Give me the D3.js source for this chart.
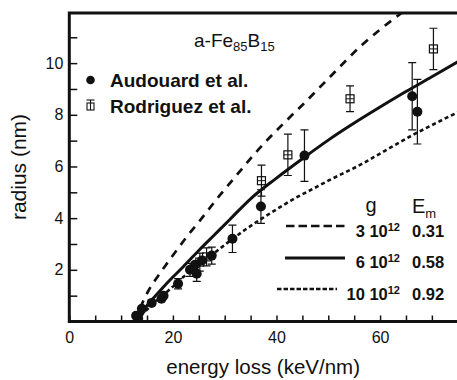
<!DOCTYPE html>
<html>
<head>
<meta charset="utf-8">
<script src="https://cdn.jsdelivr.net/npm/d3@7"></script>
<style>
  body { margin: 0; background: #fff; }
  text { font-family: "Liberation Sans", Arial, Helvetica, sans-serif; fill: #111; }
</style>
</head>
<body>
<div id="chart"></div>
<script>
// data (energy loss in keV/nm, radius in nm)
var audouardE   = [12.9, 13.3, 14.0, 15.9, 17.8, 18.2, 21.0, 23.3, 24.3, 24.6, 25.6, 27.5, 31.5, 37.0, 45.4, 66.2, 67.2];
var audouardR   = [0.22, 0.12, 0.49, 0.72, 0.88, 1.00, 1.46, 2.00, 2.20, 1.85, 2.36, 2.55, 3.20, 4.45, 6.42, 8.72, 8.12];
var audouardErr = [0,    0,    0,    0,    0,    0,    0.2,  0.25, 0,    0.3,  0,    0.33, 0.53, 0.65, 1.0,  1.3,  1.25];

var rodriguezE   = [25.2, 26.5, 37.1, 42.2, 54.2, 70.3];
var rodriguezR   = [2.30, 2.50, 5.45, 6.45, 8.62, 10.55];
var rodriguezErr = [0.35, 0.35, 0.6,  0.8,  0.5,  0.8];

// model curves, g = 3, 6, 10 x 10^12
var g3E = [12.5, 13.5, 15.3, 17.2, 18.8, 20.7, 22.6, 25, 29, 33.3, 35.6, 38.1, 40.3, 42.9, 45.2, 50, 56.5, 60, 64.2, 68];
var g3R = [0, 0.45, 1.2, 1.78, 2.23, 2.75, 3.26, 3.85, 4.87, 5.9, 6.45, 7.0, 7.45, 7.97, 8.42, 9.4, 10.7, 11.3, 11.95, 12.5];
var g6E = [12.5, 14, 16, 18, 20, 22, 25, 28, 31, 35, 40, 45, 50, 55, 60, 65, 70, 75];
var g6R = [0, 0.38, 0.85, 1.3, 1.72, 2.12, 2.75, 3.35, 3.95, 4.75, 5.55, 6.3, 7.02, 7.68, 8.3, 8.9, 9.47, 10.05];
var g10E = [13, 14, 16, 18, 20, 22, 25, 28, 31, 34, 37.3, 40, 43.3, 46.9, 50, 56.5, 60, 66.7, 70, 75];
var g10R = [0, 0.25, 0.65, 1.0, 1.35, 1.72, 2.2, 2.65, 3.12, 3.56, 4.0, 4.34, 4.74, 5.12, 5.45, 6.1, 6.5, 7.26, 7.6, 8.1];

var gLabels = ["3", "6", "10"];
var emLabels = ["0.31", "0.58", "0.92"];
var xTicks = [0, 5, 10, 15, 20, 25, 30, 35, 40, 45, 50, 55, 60, 65, 70];
var yTicks = [1, 2, 3, 4, 5, 6, 7, 8, 9, 10, 11];

// dimensions
var width = 457, height = 380;
var plot = {left: 69.3, right: 457, top: 13, bottom: 321.5};

var svg = d3.select("#chart")
  .append("svg")
  .attr("width", width)
  .attr("height", height);

var x = d3.scaleLinear().domain([0, 74.85]).range([plot.left, plot.right]);
var y = d3.scaleLinear().domain([0, 11.94]).range([plot.bottom, plot.top]);

svg.append("clipPath").attr("id", "clip")
  .append("rect")
  .attr("x", plot.left).attr("y", plot.top)
  .attr("width", plot.right - plot.left).attr("height", plot.bottom - plot.top);

// axes, ticks point into the plot
var xAxis = svg.append("g")
  .attr("transform", `translate(0, ${plot.bottom})`)
  .call(d3.axisBottom(x).tickValues(xTicks).tickSize(-6).tickPadding(10)
    .tickFormat(function(d) { return d % 20 == 0 ? d : ""; }));
var yAxis = svg.append("g")
  .attr("transform", `translate(${plot.left}, 0)`)
  .call(d3.axisLeft(y).tickValues(yTicks).tickSize(-8).tickPadding(6)
    .tickFormat(function(d) { return d % 2 == 0 ? d : ""; }));

[xAxis, yAxis].forEach(function(a) {
  a.select(".domain").remove();
  a.selectAll(".tick line").attr("stroke", "#111").attr("stroke-width", 1.5);
  a.selectAll(".tick text").attr("font-size", "16px")
    .attr("font-family", "Liberation Sans, Arial, sans-serif").attr("fill", "#111");
});

// thick frame (left, bottom, top)
svg.append("path")
  .attr("d", `M${plot.right},${plot.top} H${plot.left} V${plot.bottom} H${plot.right}`)
  .attr("fill", "none")
  .attr("stroke", "#111")
  .attr("stroke-width", 3);

// axis titles
svg.append("text")
  .attr("x", (plot.left + plot.right) / 2).attr("y", 374)
  .attr("text-anchor", "middle")
  .attr("font-size", "20.5px")
  .text("energy loss (keV/nm)");

svg.append("text")
  .attr("transform", "translate(26, 167) rotate(-90)")
  .attr("text-anchor", "middle")
  .attr("font-size", "21px")
  .text("radius (nm)");

// model curves
var curves = [
  {e: g3E, r: g3R, dash: "8,7", w: 2.7},
  {e: g6E, r: g6R, dash: null, w: 3},
  {e: g10E, r: g10R, dash: "4,3", w: 2.6}
];
var line = d3.line()
  .x(function(d) { return x(d[0]); })
  .y(function(d) { return y(d[1]); })
  .curve(d3.curveMonotoneX);

var curveG = svg.append("g").attr("clip-path", "url(#clip)");
curves.forEach(function(c) {
  curveG.append("path")
    .attr("d", line(d3.zip(c.e, c.r)))
    .attr("fill", "none")
    .attr("stroke", "#111")
    .attr("stroke-width", c.w)
    .attr("stroke-dasharray", c.dash);
});

// error bars with caps
function errorBar(g, e, r, err) {
  if (err <= 0) return;
  var cx = x(e), y1 = y(r + err), y2 = y(r - err);
  g.append("line").attr("x1", cx).attr("x2", cx).attr("y1", y1).attr("y2", y2)
    .attr("stroke", "#111").attr("stroke-width", 1.2);
  [y1, y2].forEach(function(yy) {
    g.append("line").attr("x1", cx - 4).attr("x2", cx + 4).attr("y1", yy).attr("y2", yy)
      .attr("stroke", "#111").attr("stroke-width", 1.2);
  });
}

var pts = svg.append("g").attr("clip-path", "url(#clip)");

// Rodriguez: open squares
rodriguezE.forEach(function(e, i) {
  errorBar(pts, e, rodriguezR[i], rodriguezErr[i]);
  var cx = x(e), cy = y(rodriguezR[i]);
  pts.append("rect")
    .attr("x", cx - 4).attr("y", cy - 4).attr("width", 8).attr("height", 8)
    .attr("fill", "none").attr("stroke", "#111").attr("stroke-width", 1.2);
  pts.append("line").attr("x1", cx - 4).attr("x2", cx + 4).attr("y1", cy).attr("y2", cy)
    .attr("stroke", "#111").attr("stroke-width", 1);
});

// Audouard: filled circles
audouardE.forEach(function(e, i) {
  errorBar(pts, e, audouardR[i], audouardErr[i]);
  pts.append("circle")
    .attr("cx", x(e)).attr("cy", y(audouardR[i])).attr("r", 5)
    .attr("fill", "#111");
});

// title
var title = svg.append("text")
  .attr("x", 194).attr("y", 47)
  .attr("font-size", "19px");
title.append("tspan").text("a-Fe");
title.append("tspan").attr("font-size", "13px").attr("dy", 4).text("85");
title.append("tspan").attr("dy", -4).text("B");
title.append("tspan").attr("font-size", "13px").attr("dy", 4).text("15");

// data legend
svg.append("circle").attr("cx", 90.5).attr("cy", 80).attr("r", 4.3).attr("fill", "#111");
svg.append("text").attr("x", 110).attr("y", 87)
  .attr("font-size", "19px").attr("font-weight", "bold")
  .text("Audouard et al.");

svg.append("rect").attr("x", 87).attr("y", 103).attr("width", 7).attr("height", 7)
  .attr("fill", "none").attr("stroke", "#111").attr("stroke-width", 1.1);
svg.append("line").attr("x1", 90.5).attr("x2", 90.5).attr("y1", 100).attr("y2", 110)
  .attr("stroke", "#111").attr("stroke-width", 1.1);
svg.append("line").attr("x1", 86.5).attr("x2", 94.5).attr("y1", 100).attr("y2", 100)
  .attr("stroke", "#111").attr("stroke-width", 1.1);
svg.append("text").attr("x", 110).attr("y", 113)
  .attr("font-size", "19px").attr("font-weight", "bold")
  .text("Rodriguez et al.");

// curve legend: header g and E_m
svg.append("text").attr("x", 371).attr("y", 212)
  .attr("text-anchor", "middle").attr("font-size", "20px").text("g");
var em = svg.append("text").attr("x", 412).attr("y", 213).attr("font-size", "20px");
em.append("tspan").text("E");
em.append("tspan").attr("font-size", "13px").attr("dy", 5).text("m");

var legLines = [
  {x1: 286, x2: 347, y: 226, textY: 236.5},
  {x1: 285, x2: 345, y: 258, textY: 268},
  {x1: 277, x2: 337, y: 289, textY: 300}
];
var legDash = ["8.5,4", null, "4.5,2"];

legLines.forEach(function(l, i) {
  svg.append("line")
    .attr("x1", l.x1).attr("x2", l.x2).attr("y1", l.y).attr("y2", l.y)
    .attr("stroke", "#111")
    .attr("stroke-width", curves[i].w)
    .attr("stroke-dasharray", legDash[i]);

  var t = svg.append("text")
    .attr("x", 400).attr("y", l.textY)
    .attr("text-anchor", "end")
    .attr("font-size", "16.5px").attr("font-weight", "bold");
  t.append("tspan").text(gLabels[i] + " 10");
  t.append("tspan").attr("font-size", "11px").attr("dy", -6).text("12");

  svg.append("text")
    .attr("x", 412).attr("y", l.textY)
    .attr("font-size", "16.5px").attr("font-weight", "bold")
    .text(emLabels[i]);
});
</script>
</body>
</html>
